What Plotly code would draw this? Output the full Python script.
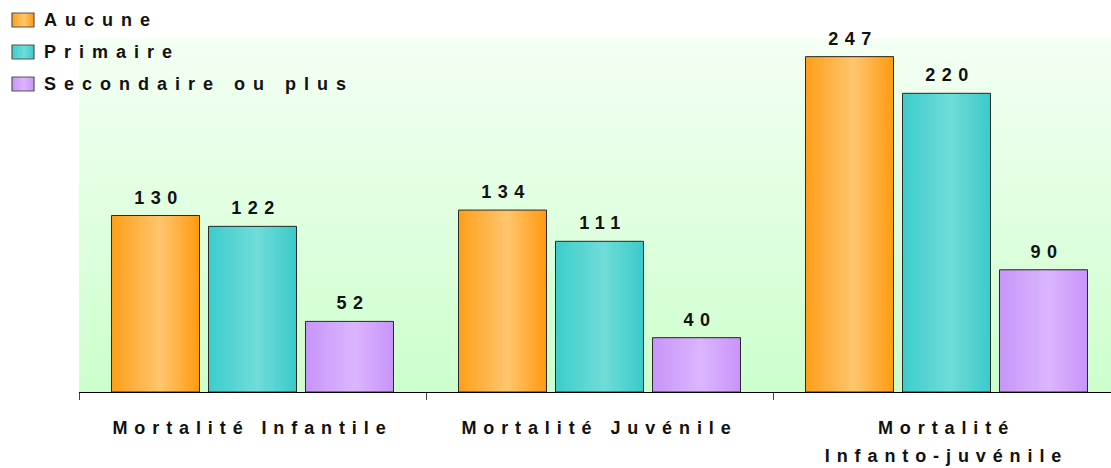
import plotly.graph_objects as go

# --- data -----------------------------------------------------------------
categories = ["Mortalité Infantile", "Mortalité Juvénile", "Mortalité Infanto-juvénile"]
tick_labels = ["Mortalité Infantile", "Mortalité Juvénile", "Mortalité<br>Infanto-juvénile"]
series_names = ["Aucune", "Primaire", "Secondaire ou plus"]
aucune = [130, 134, 247]
primaire = [122, 111, 220]
secondaire = [52, 40, 90]

# --- styling ----------------------------------------------------------------
values_by_series = [aucune, primaire, secondaire]
# left edge / highlight / right edge colours of each bar's horizontal shading
shades = [
    ("#FF9F1A", "#FFC66E", "#FF9A10"),
    ("#3CCDCC", "#70DCD8", "#3ACACA"),
    ("#C795F9", "#DBB6FF", "#C894FA"),
]
HIGHLIGHT_AT = 0.55
BAR_W = 0.2536      # bar width, in category units
PITCH = 0.2795      # distance between neighbouring bars of a group
N_STRIPS = 32
FONT = "Liberation Sans, Arial, sans-serif"
FONT_SIZE = 18
OUTLINE = "#2a2a2a"
LS_VALUES, LS_LEGEND, LS_AXIS = 6.5, 8.0, 6.9   # letter spacing, px

W, H = 1111, 468
M_L, M_T, M_B = 79, 39, 76
PLOT_W = W - M_L
PLOT_H = H - M_T - M_B
CAT_PX = 347

x_idx = list(range(len(categories)))


def hex_to_rgb(h):
    h = h.lstrip("#")
    return tuple(int(h[i:i + 2], 16) for i in (0, 2, 4))


def mix(c1, c2, t):
    a, b = hex_to_rgb(c1), hex_to_rgb(c2)
    return "rgb({},{},{})".format(*(round(a[i] + (b[i] - a[i]) * t) for i in range(3)))


def shade_at(stops, t):
    left, mid, right = stops
    if t <= HIGHLIGHT_AT:
        return mix(left, mid, t / HIGHLIGHT_AT)
    return mix(mid, right, (t - HIGHLIGHT_AT) / (1 - HIGHLIGHT_AT))


def px_x(px):
    """page x pixel -> paper x"""
    return (px - M_L) / PLOT_W


def px_y(py):
    """page y pixel -> paper y"""
    return (H - M_B - py) / PLOT_H


label_font = dict(family=FONT, size=FONT_SIZE, color="#111", weight="bold")

fig = go.Figure()

for s, (name, vals) in enumerate(zip(series_names, values_by_series)):
    left_off = (s - 1) * PITCH - BAR_W / 2
    # shading: each strip runs from its start to the bar's right edge
    for k in range(N_STRIPS):
        t = (k + 0.5) / N_STRIPS
        start = k * BAR_W / N_STRIPS
        fig.add_trace(go.Bar(
            x=x_idx, y=vals, showlegend=False,
            offset=left_off + start, width=BAR_W - start,
            marker=dict(color=shade_at(shades[s], t), line=dict(width=0)),
            hoverinfo="skip",
        ))
    # outline on top
    fig.add_trace(go.Bar(
        x=x_idx, y=vals, name=name, showlegend=False,
        offset=left_off, width=BAR_W,
        marker=dict(color="rgba(0,0,0,0)", line=dict(color=OUTLINE, width=1)),
        hovertemplate=name + ": %{y}<extra></extra>",
    ))

# value labels above the bars
annotations = []
for s, vals in enumerate(values_by_series):
    for i, v in zip(x_idx, vals):
        annotations.append(dict(
            x=i + (s - 1) * PITCH, y=v, xref="x", yref="y",
            text=str(v), showarrow=False, yanchor="bottom",
            yshift=6, xshift=LS_VALUES / 2,
            font=label_font,
        ))
n_value_labels = len(annotations)

shapes = []

# vertical light-green wash behind the plot area
N_BANDS = 70
bottom_c, top_c = "#CCFFCC", "#F4FFF4"
for b in range(N_BANDS):
    shapes.append(dict(
        type="rect", xref="paper", yref="paper", layer="below",
        x0=0, x1=1, y0=b / N_BANDS, y1=(b + 1) / N_BANDS + 0.002,
        fillcolor=mix(bottom_c, top_c, (b + 0.5) / N_BANDS),
        line=dict(width=0),
    ))

# legend in the top-left corner: shaded swatch + label
SW_X0, SW_X1, SW_H = 12, 34, 14
ROW_Y = [20, 52, 84]
N_SW = 8
for s, name in enumerate(series_names):
    cy = ROW_Y[s]
    for k in range(N_SW):
        t = (k + 0.5) / N_SW
        x0 = SW_X0 + (SW_X1 - SW_X0) * k / N_SW
        shapes.append(dict(
            type="rect", xref="paper", yref="paper", layer="above",
            x0=px_x(x0), x1=px_x(SW_X1),
            y0=px_y(cy + SW_H / 2), y1=px_y(cy - SW_H / 2),
            fillcolor=shade_at(shades[s], t), line=dict(width=0),
        ))
    shapes.append(dict(
        type="rect", xref="paper", yref="paper", layer="above",
        x0=px_x(SW_X0), x1=px_x(SW_X1),
        y0=px_y(cy + SW_H / 2), y1=px_y(cy - SW_H / 2),
        fillcolor="rgba(0,0,0,0)", line=dict(color="#555", width=1.2),
    ))
    annotations.append(dict(
        x=px_x(42), y=px_y(cy), xref="paper", yref="paper",
        text=name, showarrow=False, xanchor="left", yanchor="middle",
        align="left", font=label_font,
    ))

fig.update_layout(
    width=W, height=H,
    margin=dict(l=M_L, r=0, t=M_T, b=M_B),
    barmode="overlay",
    paper_bgcolor="white",
    plot_bgcolor="rgba(0,0,0,0)",
    font=dict(family=FONT, size=FONT_SIZE, color="#111"),
    annotations=annotations,
    shapes=shapes,
    showlegend=False,
    xaxis=dict(
        range=[-0.5, -0.5 + PLOT_W / CAT_PX],
        tickmode="array", tickvals=x_idx, ticktext=tick_labels,
        ticks="", showgrid=False, zeroline=False,
        showline=True, linecolor="black", linewidth=1,
        tickfont=label_font,
        ticklabelstandoff=19,
        minor=dict(tickmode="array", tickvals=[-0.5, 0.5, 1.5, 2.5],
                   ticks="outside", ticklen=7, tickwidth=1, tickcolor="#444",
                   showgrid=False),
    ),
    yaxis=dict(range=[0, 260], visible=False, showgrid=False, zeroline=False),
)

# wide letter spacing for the labels, and roomier line spacing in the
# two-line category label
post_js = """
var gd = document.getElementById('{plot_id}');
var nValues = %d;
function spreadLetters() {
  gd.querySelectorAll('.xtick text').forEach(function (t) {
    t.style.letterSpacing = '%gpx';
    var lines = t.querySelectorAll('tspan.line');
    for (var i = 1; i < lines.length; i++) { lines[i].setAttribute('dy', '1.55em'); }
  });
  gd.querySelectorAll('g.annotation').forEach(function (g) {
    var idx = parseInt(g.getAttribute('data-index'), 10);
    var t = g.querySelector('.annotation-text');
    if (t) { t.style.letterSpacing = (idx < nValues ? '%gpx' : '%gpx'); }
  });
}
spreadLetters();
gd.on('plotly_afterplot', spreadLetters);
""" % (n_value_labels, LS_AXIS, LS_VALUES, LS_LEGEND)

fig.write_html("out.html", post_script=post_js)
